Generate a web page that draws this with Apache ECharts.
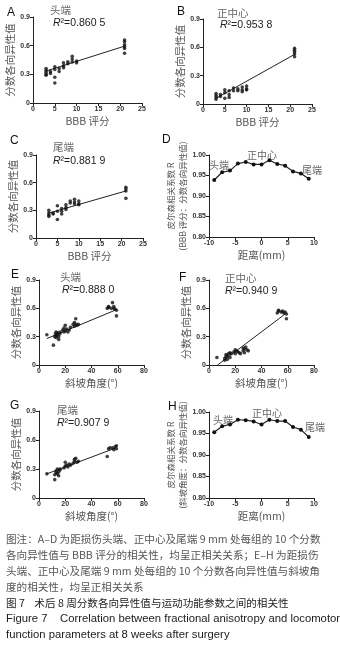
<!DOCTYPE html>
<html><head><meta charset="utf-8">
<script src="https://cdn.jsdelivr.net/npm/echarts@6/dist/echarts.min.js"></script>
<style>html,body{margin:0;padding:0;background:#fff}#c{width:340px;height:646px}</style>
</head><body><div id="c"></div>
<script>
// ---------- DATA ----------
const bbbHead = [[3,0.36],[3,0.34],[3,0.32],[3,0.30],[3,0.29],[4,0.33],[4,0.31],[5,0.38],[5,0.35],[5,0.27],[5,0.21],[6,0.36],[6,0.33],[7,0.42],[7,0.39],[7,0.37],[8,0.43],[8,0.41],[9,0.49],[9,0.46],[9,0.43],[10,0.44],[10,0.42],[21,0.66],[21,0.64],[21,0.61],[21,0.59],[21,0.57],[21,0.52]];
const bbbCenter = [[3,0.11],[3,0.09],[3,0.07],[3,0.05],[4,0.10],[4,0.08],[5,0.15],[5,0.12],[5,0.06],[6,0.14],[6,0.10],[6,0.07],[7,0.17],[7,0.14],[8,0.16],[8,0.14],[9,0.18],[9,0.15],[9,0.13],[10,0.19],[10,0.16],[10,0.15],[21,0.59],[21,0.57],[21,0.55],[21,0.53],[21,0.50]];
const bbbTail = [[3,0.30],[3,0.27],[3,0.25],[3,0.235],[4,0.27],[4,0.26],[5,0.35],[5,0.29],[5,0.20],[6,0.32],[6,0.29],[6,0.26],[7,0.36],[7,0.33],[7,0.31],[8,0.40],[8,0.38],[9,0.42],[9,0.39],[9,0.37],[10,0.40],[10,0.37],[10,0.36],[21,0.55],[21,0.53],[21,0.51],[21,0.43]];
const fitBbbHead = [[3,0.335],[21,0.595]];
const fitBbbCenter = [[3,0.06],[21,0.525]];
const fitBbbTail = [[3,0.27],[21,0.51]];

const slopeHead = [[6,0.32],[11,0.21],[12,0.30],[12.5,0.33],[13,0.29],[13,0.35],[13.5,0.31],[14,0.34],[14,0.32],[15,0.30],[15,0.27],[16,0.33],[16,0.35],[18,0.37],[19,0.39],[19,0.35],[20,0.42],[20,0.36],[21,0.38],[22,0.35],[23,0.37],[24,0.40],[26,0.43],[27,0.41],[27,0.45],[28,0.49],[28,0.43],[29,0.42],[30,0.43],[52,0.60],[53,0.62],[53,0.61],[55,0.60],[56,0.66],[57,0.62],[57,0.60],[58,0.59],[59,0.58],[59,0.52]];
const slopeCenter = [[6,0.08],[12,0.05],[12,0.07],[13,0.09],[13,0.11],[14,0.06],[14,0.10],[15,0.12],[16,0.13],[16,0.08],[17,0.12],[19,0.14],[20,0.16],[20,0.12],[21,0.15],[22,0.14],[23,0.13],[24,0.12],[26,0.18],[26,0.15],[27,0.17],[27,0.13],[28,0.19],[29,0.16],[30,0.15],[52,0.55],[53,0.57],[53,0.58],[55,0.56],[56,0.57],[57,0.55],[58,0.56],[59,0.54],[59,0.49]];
const slopeTail = [[6,0.25],[12,0.19],[12,0.24],[13,0.26],[13,0.28],[14,0.25],[14,0.30],[15,0.27],[15,0.23],[16,0.29],[16,0.30],[19,0.31],[20,0.33],[20,0.37],[21,0.34],[22,0.32],[23,0.35],[24,0.34],[26,0.36],[27,0.38],[27,0.40],[28,0.41],[29,0.37],[30,0.38],[52,0.43],[53,0.51],[54,0.52],[56,0.52],[57,0.50],[58,0.53],[59,0.54],[59,0.51]];
const fitSlopeHead = [[6,0.28],[58,0.58]];
const fitSlopeCenter = [[6.5,0.0],[58,0.54]];
const fitSlopeTail = [[6,0.25],[58,0.515]];

const distanceMm = [-9,-7.5,-6,-4.5,-3,-1.5,0,1.5,3,4.5,6,7.5,9];
const corrBbb = [0.939,0.958,0.962,0.979,0.983,0.977,0.977,0.987,0.978,0.974,0.960,0.955,0.942];
const corrSlope = [0.953,0.967,0.971,0.982,0.981,0.978,0.971,0.982,0.979,0.979,0.965,0.959,0.942];

const panelLetters = ['A','B','C','D','E','F','G','H'];
const regionNames = ['头端','正中心','尾端'];
const r2Labels = ['0.860 5','0.953 8','0.881 9','0.888 0','0.940 9','0.907 9'];
const faName = '分数各向异性值';
const bbbName = 'BBB 评分';
const slopeName = '斜坡角度(°)';
const distName = '距离(mm)';
const corrNameD = '皮尔森相关系数 R\n(BBB 评分：分数各向异性值)';
const corrNameH = '皮尔森相关系数 R\n(斜坡角度：分数各向异性值)';
const captionLines = [
  '图注：A–D 为距损伤头端、正中心及尾端 9 mm 处每组的 10 个分数',
  '各向异性值与 BBB 评分的相关性，均呈正相关关系；E–H 为距损伤',
  '头端、正中心及尾端 9 mm 处每组的 10 个分数各向异性值与斜坡角',
  '度的相关性，均呈正相关关系',
  '图 7    术后 8 周分数各向异性值与运动功能参数之间的相关性',
  'Figure 7    Correlation between fractional anisotropy and locomotor',
  'function parameters at 8 weeks after surgery'
];

// ---------- LAYOUT / STYLE ----------
const CJK = '"Noto Sans CJK SC", sans-serif';
const LAT = '"Liberation Sans", Arial, sans-serif';
const grids = [
  {left:33, top:17, width:109, height:86},
  {left:203, top:19, width:109, height:85},
  {left:36, top:155, width:107, height:83},
  {left:209, top:155, width:105, height:82},
  {left:39, top:280, width:105, height:85},
  {left:209, top:280, width:105, height:85},
  {left:39, top:411, width:105, height:87},
  {left:209, top:412, width:105, height:86}
];
const faFmt = v => (Math.abs(v) < 1e-9 ? '0' : v.toFixed(1));
const rFmt = v => v.toFixed(2);
const intFmt = v => String(Math.round(v));

function xAx(i, min, max, interval, name) {
  return {gridIndex:i, type:'value', min, max, interval, name, nameLocation:'middle', nameGap:13,
    nameTextStyle:{fontSize:10.5, color:'#555', fontFamily:CJK},
    axisLine:{onZero:false, lineStyle:{color:'#222', width:1}},
    axisTick:{length:3, lineStyle:{color:'#222'}},
    axisLabel:{fontSize:7, fontWeight:'bold', color:'#333', margin:3, fontFamily:LAT, formatter:intFmt},
    splitLine:{show:false}};
}
function yAx(i, min, max, interval, name, fmt, gap, fs) {
  return {gridIndex:i, type:'value', min, max, interval, name, nameLocation:'middle', nameGap:gap, nameRotate:90,
    nameTextStyle:{fontSize:fs, color:'#555', fontFamily:CJK, lineHeight:fs+3},
    axisLine:{onZero:false, lineStyle:{color:'#222', width:1}},
    axisTick:{length:3, lineStyle:{color:'#222'}},
    axisLabel:{fontSize:7, fontWeight:'bold', color:'#333', margin:3, fontFamily:LAT, formatter:fmt},
    splitLine:{show:false}};
}

const xAxes = [
  xAx(0,0,25,5,bbbName), xAx(1,0,25,5,bbbName), xAx(2,0,25,5,bbbName), xAx(3,-10,10,5,distName),
  xAx(4,0,80,20,slopeName), xAx(5,0,80,20,slopeName), xAx(6,0,80,20,slopeName), xAx(7,-10,10,5,distName)
];
const yAxes = [
  yAx(0,0,0.9,0.3,faName,faFmt,12,10.5), yAx(1,0,0.9,0.3,faName,faFmt,12,10.5),
  yAx(2,0,0.9,0.3,faName,faFmt,12,10.5), yAx(3,0.8,1.0,0.05,corrNameD,rFmt,19,8.5),
  yAx(4,0,0.9,0.3,faName,faFmt,12,10.5), yAx(5,0,0.9,0.3,faName,faFmt,12,10.5),
  yAx(6,0,0.9,0.3,faName,faFmt,12,10.5), yAx(7,0.8,1.0,0.05,corrNameH,rFmt,19,8.5)
];

function scat(i, data) {
  return {type:'scatter', xAxisIndex:i, yAxisIndex:i, data, symbolSize:3.6, itemStyle:{color:'#111'}, silent:true};
}
function fit(i, data) {
  return {type:'line', xAxisIndex:i, yAxisIndex:i, data, symbol:'none', lineStyle:{color:'#222', width:1}, silent:true, z:1};
}
function corr(i, ys) {
  return {type:'line', xAxisIndex:i, yAxisIndex:i, data: distanceMm.map((x,k)=>[x, ys[k]]),
    symbol:'circle', symbolSize:4, itemStyle:{color:'#111'}, lineStyle:{color:'#222', width:1.2}, silent:true};
}
const series = [
  scat(0,bbbHead), fit(0,fitBbbHead),
  scat(1,bbbCenter), fit(1,fitBbbCenter),
  scat(2,bbbTail), fit(2,fitBbbTail),
  corr(3,corrBbb),
  scat(4,slopeHead), fit(4,fitSlopeHead),
  scat(5,slopeCenter), fit(5,fitSlopeCenter),
  scat(6,slopeTail), fit(6,fitSlopeTail),
  corr(7,corrSlope)
];

// text annotations
const g = [];
function txt(x, y, text, opts) {
  g.push({type:'text', x, y, silent:true, style:Object.assign({text, fill:'#555', fontSize:11, fontFamily:CJK, verticalAlign:'middle', align:'left'}, opts||{})});
}
const letterPos = [[7,13],[177,12],[10,141],[162,140],[11,275],[179,278],[10,406],[168,407]];
panelLetters.forEach((L,k)=>txt(letterPos[k][0], letterPos[k][1], L, {fill:'#111', fontSize:12, fontFamily:LAT}));
const titlePos = [[50,10],[217,13],[53,147],[60,277],[225,278],[57,410]];
const r2Pos = [[53,23],[220,25],[53,161],[62,290],[225,291],[57,423]];
[0,1,2,0,1,2].forEach((r,k)=>{
  txt(titlePos[k][0], titlePos[k][1], regionNames[r], {fontSize:10.5, fill:'#666'});
  g.push({type:'text', x:r2Pos[k][0], y:r2Pos[k][1], silent:true,
    style:{text:'{i|R}²=' + r2Labels[k], fill:'#222', fontSize:10.5, fontFamily:LAT, verticalAlign:'middle',
      rich:{i:{fontStyle:'italic', fontSize:10.5, fontFamily:LAT, fill:'#222'}}}});
});
// D and H region labels
[[209,165,0],[247,155,1],[302,170,2],[213,420,0],[252,413,1],[305,427,2]].forEach(p=>txt(p[0],p[1],regionNames[p[2]],{fontSize:10, fill:'#666'}));
// caption
const capY = [539,555,571,587,603,619,635];
captionLines.forEach((s,k)=>txt(6, capY[k], s, {fontSize: k>=5 ? 11.3 : 10.6, fill: k<4 ? '#555' : '#222', fontFamily: k>=5 ? LAT : CJK}));

const chart = echarts.init(document.getElementById('c'), null, {renderer:'canvas'});
chart.setOption({
  animation:false,
  backgroundColor:'#fff',
  grid: grids,
  xAxis: xAxes,
  yAxis: yAxes,
  series,
  graphic: g
});
</script></body></html>
